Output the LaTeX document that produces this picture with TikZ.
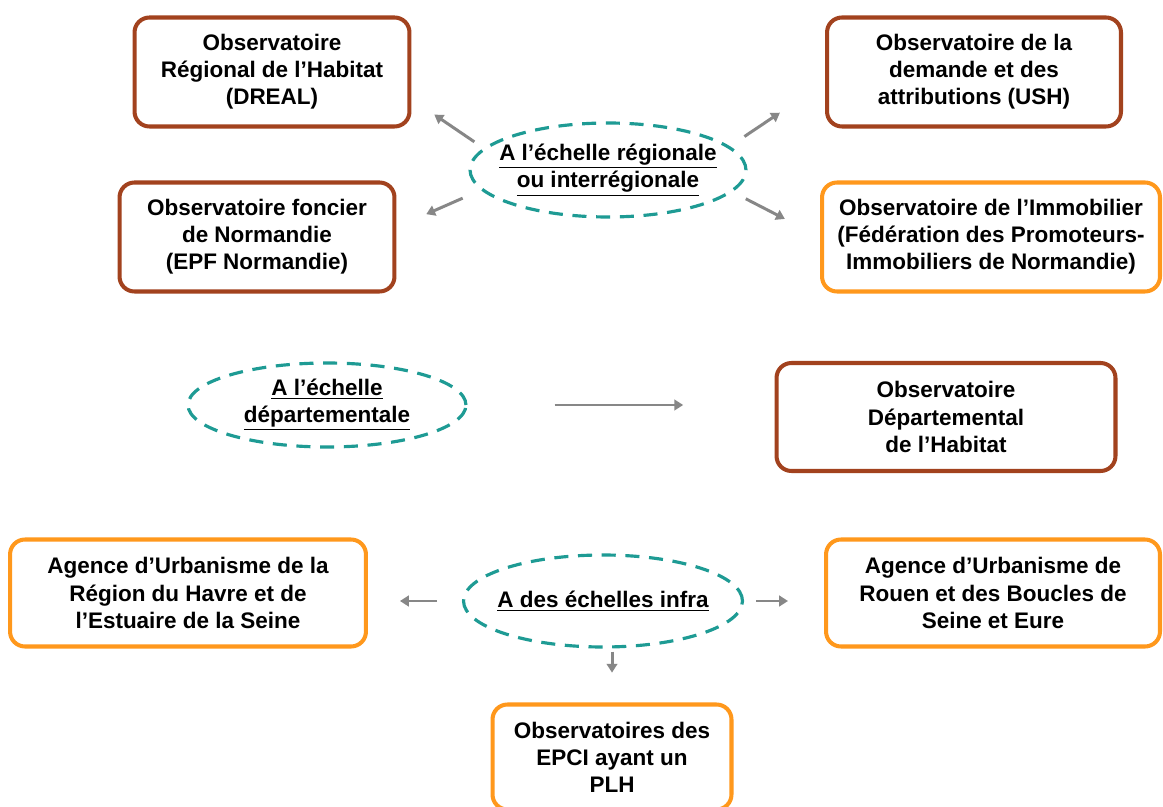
\documentclass[tikz,border=0pt]{standalone}
\usepackage{fontspec}
\setmainfont{Liberation Sans}
\usetikzlibrary{shapes.geometric, arrows.meta}
\definecolor{brownline}{RGB}{162,66,30}
\definecolor{orangeline}{RGB}{255,152,28}
\definecolor{tealdash}{RGB}{30,155,148}
\definecolor{arrowgray}{RGB}{135,135,135}
\tikzset{
    obsbox/.style={draw, line width=2.3pt, rounded corners=8.5pt, align=center, fill=white},
    brownbox/.style={obsbox, draw=brownline},
    orangebox/.style={obsbox, draw=orangeline},
    scaleellipse/.style={draw=tealdash, ellipse, line width=1.8pt, dash pattern=on 8pt off 5.5pt, inner sep=0pt},
    scaletext/.style={align=center, inner sep=0pt},
    link/.style={draw=arrowgray, line width=1.7pt, -{Triangle[length=5pt, width=6pt]}}
}

\begin{document}
\begin{tikzpicture}[x=0.02cm, y=-0.02cm, every node/.style={font=\fontsize{12.8pt}{15.4pt}\selectfont\bfseries}]
  \useasboundingbox[fill=white] (0,0) rectangle (1163,807);
  % regional level
  \node(dreal)[brownbox, minimum width=5.5cm, minimum height=2.18cm] at (272,72) {Observatoire\\Régional de l’Habitat\\(DREAL)};
  \node(ush)[brownbox, minimum width=5.88cm, minimum height=2.18cm] at (974,72) {Observatoire de la\\demande et des\\attributions (USH)};
  \node(foncier)[brownbox, minimum width=5.5cm, minimum height=2.18cm] at (257,237) {Observatoire foncier\\de Normandie\\(EPF Normandie)};
  \node(immo)[orangebox, minimum width=6.76cm, minimum height=2.18cm] at (991,237) {Observatoire de l’Immobilier\\(Fédération des Promoteurs-\\Immobiliers de Normandie)};
  \node(reg)[scaleellipse, minimum width=5.52cm, minimum height=1.88cm] at (608,170) {};
  \node(regtext)[scaletext] at (reg) {\underline{A l’échelle régionale}\\\underline{ou interrégionale}};
  % departmental level
  \node(dept)[scaleellipse, minimum width=5.56cm, minimum height=1.68cm] at (327,405) {};
  \node(depttext)[scaletext] at (dept) {\underline{A l’échelle}\\\underline{départementale}};
  \node(deptobs)[brownbox, minimum width=6.78cm, minimum height=2.16cm] at (946,417) {Observatoire\\Départemental\\de l’Habitat};
  % infra level
  \node(infra)[scaleellipse, minimum width=5.58cm, minimum height=1.84cm] at (603,601) {};
  \node(infratext)[scaletext] at (infra) {\underline{A des échelles infra}};
  \node(havre)[orangebox, minimum width=7.12cm, minimum height=2.14cm] at (188,593) {Agence d’Urbanisme de la\\Région du Havre et de\\l’Estuaire de la Seine};
  \node(rouen)[orangebox, minimum width=6.68cm, minimum height=2.14cm] at (993,593) {Agence d’Urbanisme de\\Rouen et des Boucles de\\Seine et Eure};
  \node(epci)[orangebox, minimum width=4.78cm, minimum height=2.1cm] at (612,757) {Observatoires des\\EPCI ayant un\\PLH};
  % arrows
  \draw[link, shorten <=6.3pt, shorten >=15.7pt](reg.170)--(dreal.-11);
  \draw[link, shorten <=10pt, shorten >=30.9pt](reg.11)--(ush.184);
  \draw[link, shorten <=11.4pt, shorten >=18.5pt](reg.189)--(foncier.4);
  \draw[link, shorten <=8.5pt, shorten >=22.5pt](reg.-10)--(immo.180);
  \draw[link, shorten <=49.5pt, shorten >=52pt](dept.east)--(dept.east -| deptobs.west);
  \draw[link, shorten <=14.2pt, shorten >=18.2pt](infra.west)--(infra.west -| havre.east);
  \draw[link, shorten <=6.8pt, shorten >=20.5pt](infra.east)--(infra.east -| rouen.west);
  \draw[link, shorten <=1.7pt, shorten >=17pt](infra.south -| epci.north)--(epci.north);
\end{tikzpicture}
\end{document}
